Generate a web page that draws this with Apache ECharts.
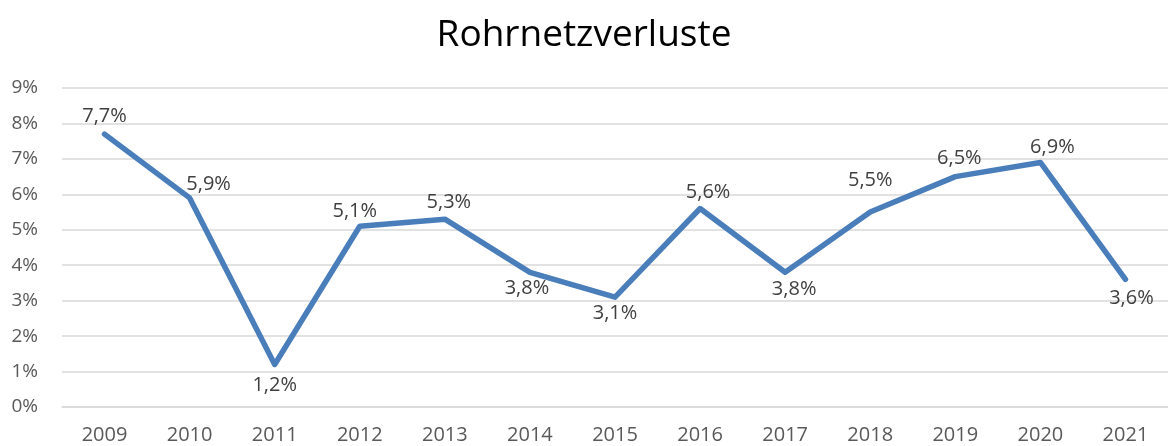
<!DOCTYPE html>
<html>
<head>
<meta charset="utf-8">
<title>Rohrnetzverluste</title>
<script src="https://cdn.jsdelivr.net/npm/echarts@6/dist/echarts.min.js"></script>
<style>
  html, body { margin: 0; padding: 0; background: #fff; }
  #chart { width: 1168px; height: 446px; }
</style>
</head>
<body>
<div id="chart"></div>
<script>
// Daten
const jahre = ['2009', '2010', '2011', '2012', '2013', '2014', '2015', '2016', '2017', '2018', '2019', '2020', '2021'];
const verluste = [7.7, 5.9, 1.2, 5.1, 5.3, 3.8, 3.1, 5.6, 3.8, 5.5, 6.5, 6.9, 3.6];
const yTicks = [0, 1, 2, 3, 4, 5, 6, 7, 8, 9];

// Lage der Beschriftungen relativ zum Punkt (wie im Original verschoben)
const labelOffsets = [
  [0, -18], [19, -14], [0, 21], [-5, -15], [4, -17], [-3, 16], [0, 16],
  [8, -16], [9, 17], [0, -32], [4, -18], [12, -15], [6, 19]
];

const FONT = '"Open Sans", "Noto Sans", sans-serif';

let chart = echarts.init(document.getElementById('chart'), null, {renderer: 'canvas'});

let option = {
  animation: false,
  backgroundColor: '#fff',
  title: {
    text: 'Rohrnetzverluste',
    left: 'center',
    top: 12,
    textStyle: {color: '#000', fontSize: 37, fontWeight: 'normal', fontFamily: FONT}
  },
  grid: {left: 62, top: 88, width: 1110, bottom: 39, containLabel: false},
  xAxis: {
    type: 'category',
    data: jahre,
    boundaryGap: true,
    axisLine: {show: true, lineStyle: {color: '#d9d9d9', width: 1.5}},
    axisTick: {show: false},
    axisLabel: {color: '#595959', fontSize: 20, fontFamily: FONT, margin: 18}
  },
  yAxis: {
    type: 'value',
    min: yTicks[0],
    max: yTicks[yTicks.length - 1],
    interval: 1,
    axisLine: {show: false},
    axisTick: {show: false},
    splitLine: {lineStyle: {color: '#d9d9d9', width: 1.5}},
    axisLabel: {
      color: '#595959', fontSize: 19, fontFamily: FONT, margin: 24,
      formatter: v => v + '%'
    }
  },
  series: [{
    type: 'line',
    data: verluste.map((v, i) => ({
      value: v,
      label: {offset: labelOffsets[i]}
    })),
    symbol: 'circle',
    symbolSize: 1,
    lineStyle: {color: '#4a7ebb', width: 5.5, join: 'round', cap: 'round'},
    itemStyle: {color: '#4a7ebb'},
    label: {
      show: true,
      position: 'inside',
      color: '#404040',
      fontSize: 20,
      fontFamily: FONT,
      formatter: p => String(p.value).replace('.', ',') + '%'
    }
  }]
};

chart.setOption(option);
window.addEventListener('resize', () => chart.resize());
</script>
</body>
</html>
